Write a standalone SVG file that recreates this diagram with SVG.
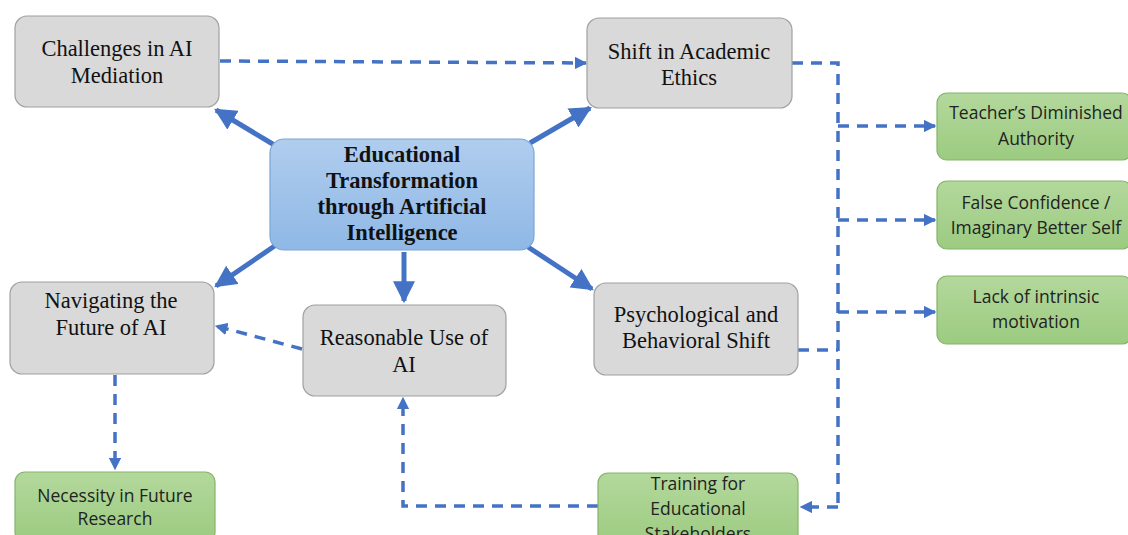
<svg xmlns="http://www.w3.org/2000/svg" width="1128" height="535" viewBox="0 0 1128 535">
<defs>
<linearGradient id="gBlue" x1="0" y1="0" x2="0" y2="1">
<stop offset="0" stop-color="#b0cdee"/>
<stop offset="1" stop-color="#8fb8e6"/>
</linearGradient>
<linearGradient id="gGreen" x1="0" y1="0" x2="0" y2="1">
<stop offset="0" stop-color="#b3d89c"/>
<stop offset="1" stop-color="#9ccb80"/>
</linearGradient>
<marker id="aBig" viewBox="0 0 10 10" refX="9" refY="5" markerWidth="4.4" markerHeight="4.4" orient="auto" markerUnits="strokeWidth">
<path d="M0,0 L10,5 L0,10 Z" fill="#4472c4"/>
</marker>
<marker id="aSm" viewBox="0 0 10 10" refX="9" refY="5" markerWidth="3.6" markerHeight="3.6" orient="auto" markerUnits="strokeWidth">
<path d="M0,0 L10,5 L0,10 Z" fill="#4472c4"/>
</marker>
</defs>
<style>
.gray{fill:#d9d9d9;stroke:#a0a0a0;stroke-width:1.2}
.blue{fill:url(#gBlue);stroke:#7aa6d8;stroke-width:1.2}
.green{fill:url(#gGreen);stroke:#84b56a;stroke-width:1.2}
.serif{font-family:"Liberation Serif","Times New Roman",serif;font-size:22.5px;fill:#111;text-anchor:middle}
.bold{font-family:"Liberation Serif","Times New Roman",serif;font-size:22.5px;font-weight:bold;fill:#111;text-anchor:middle}
.sans{font-family:"Open Sans","Noto Sans","Liberation Sans",sans-serif;font-size:17.5px;fill:#222;text-anchor:middle}
.solid{stroke:#4472c4;stroke-width:5;fill:none;marker-end:url(#aBig)}
.dash{stroke:#4472c4;stroke-width:3.5;fill:none;stroke-dasharray:11 8}
.dashA{stroke:#4472c4;stroke-width:3.5;fill:none;stroke-dasharray:11 8;marker-end:url(#aSm)}
</style>

<g id="connectors">
<line class="solid" x1="276" y1="146" x2="216" y2="110"/>
<line class="solid" x1="530" y1="143" x2="590" y2="108"/>
<line class="solid" x1="276" y1="245" x2="216" y2="286"/>
<line class="solid" x1="404" y1="252" x2="404" y2="301"/>
<line class="solid" x1="528" y1="247" x2="592" y2="289"/>
<line class="dashA" x1="220" y1="61" x2="586" y2="63"/>
<polyline class="dash" points="792,63 838,63 838,507"/>
<line class="dashA" x1="838" y1="126" x2="935" y2="126"/>
<line class="dashA" x1="838" y1="220" x2="935" y2="220"/>
<line class="dashA" x1="838" y1="312" x2="935" y2="312"/>
<line class="dash" x1="798" y1="350" x2="838" y2="350"/>
<line class="dashA" x1="838" y1="507" x2="801" y2="507"/>
<polyline class="dashA" points="598,506 403,506 403,398"/>
<line class="dashA" x1="302" y1="349" x2="216" y2="326"/>
<line class="dashA" x1="115" y1="375" x2="115" y2="469"/>
</g>

<g id="n-challenges">
<rect class="gray" x="15" y="16" width="204" height="91" rx="12"/>
<text class="serif" x="117" y="56">Challenges in AI</text>
<text class="serif" x="117" y="83">Mediation</text>
</g>
<g id="n-shift">
<rect class="gray" x="587" y="18" width="205" height="90" rx="12"/>
<text class="serif" x="689" y="59">Shift in Academic</text>
<text class="serif" x="689" y="85">Ethics</text>
</g>
<g id="n-central">
<rect class="blue" x="270" y="139" width="264" height="111" rx="14"/>
<text class="bold" x="402" y="162">Educational</text>
<text class="bold" x="402" y="188">Transformation</text>
<text class="bold" x="402" y="214">through Artificial</text>
<text class="bold" x="402" y="240">Intelligence</text>
</g>
<g id="n-navigating">
<rect class="gray" x="10" y="282" width="204" height="92" rx="12"/>
<text class="serif" x="111" y="308">Navigating the</text>
<text class="serif" x="111" y="335">Future of AI</text>
</g>
<g id="n-reasonable">
<rect class="gray" x="303" y="305" width="203" height="91" rx="12"/>
<text class="serif" x="404" y="345">Reasonable Use of</text>
<text class="serif" x="404" y="372">AI</text>
</g>
<g id="n-psych">
<rect class="gray" x="594" y="283" width="204" height="92" rx="12"/>
<text class="serif" x="696" y="322">Psychological and</text>
<text class="serif" x="696" y="348">Behavioral Shift</text>
</g>
<g id="n-teacher">
<rect class="green" x="937" y="93" width="195" height="67" rx="10"/>
<text class="sans" x="1036" y="119">Teacher’s Diminished</text>
<text class="sans" x="1036" y="145">Authority</text>
</g>
<g id="n-false">
<rect class="green" x="937" y="181" width="195" height="68" rx="10"/>
<text class="sans" x="1036" y="209">False Confidence /</text>
<text class="sans" x="1036" y="234">Imaginary Better Self</text>
</g>
<g id="n-lack">
<rect class="green" x="937" y="276" width="195" height="68" rx="10"/>
<text class="sans" x="1036" y="303">Lack of intrinsic</text>
<text class="sans" x="1036" y="328">motivation</text>
</g>
<g id="n-training">
<rect class="green" x="598" y="473" width="200" height="75" rx="10"/>
<text class="sans" x="698" y="490">Training for</text>
<text class="sans" x="698" y="515">Educational</text>
<text class="sans" x="698" y="540">Stakeholders</text>
</g>
<g id="n-necessity">
<rect class="green" x="15" y="472" width="200" height="70" rx="10"/>
<text class="sans" x="115" y="502">Necessity in Future</text>
<text class="sans" x="115" y="525">Research</text>
</g>
</svg>
